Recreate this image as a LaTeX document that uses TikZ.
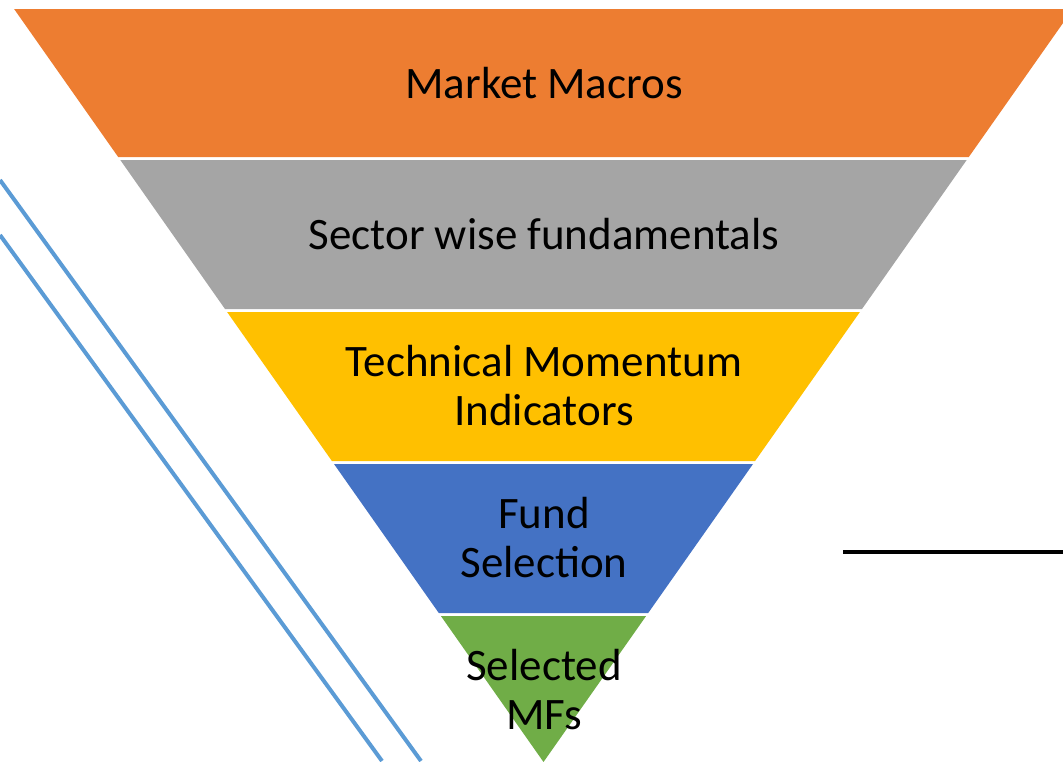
\documentclass[tikz,border=0pt]{standalone}
\usepackage{fontspec}
\setmainfont{Carlito}
\definecolor{cOrange}{HTML}{ED7D31}
\definecolor{cGray}{HTML}{A5A5A5}
\definecolor{cYellow}{HTML}{FFC000}
\definecolor{cBlue}{HTML}{4472C4}
\definecolor{cGreen}{HTML}{70AD47}
\definecolor{cLine}{HTML}{5B9BD5}
\begin{document}
\begin{tikzpicture}[x=1pt,y=-1pt,
  bandtext/.style={align=center,text=black,font=\fontsize{45}{49}\selectfont,inner sep=0pt},
  deco/.style={draw=cLine,line width=4pt}]
\useasboundingbox (0,0) rectangle (1063,761);
\clip (0,0) rectangle (1063,761);
% funnel bands
\fill[cOrange] (14.1,9) -- (1072.9,9) -- (968.8,157) -- (118.2,157) -- cycle;
\fill[cGray] (120.3,160) -- (966.7,160) -- (862.0,309) -- (225.0,309) -- cycle;
\fill[cYellow] (227.1,312) -- (859.9,312) -- (755.1,461) -- (331.9,461) -- cycle;
\fill[cBlue] (334.0,464) -- (753.0,464) -- (648.2,613) -- (438.8,613) -- cycle;
\fill[cGreen] (440.9,616) -- (646.1,616) -- (543.5,762) -- cycle;
% decorative lines
\coordinate (l1a) at (0,180);
\coordinate (l1b) at (421,761);
\coordinate (l2a) at (0,235);
\coordinate (l2b) at (382,761);
\draw[deco] (l1a) -- (l1b);
\draw[deco] (l2a) -- (l2b);
\coordinate (ka) at (843,552);
\coordinate (kb) at (1063,552);
\draw[black,line width=4pt] (ka) -- (kb);
% labels
\node[bandtext] (t1) at (544,83) {Market Macros};
\node[bandtext] (t2) at (544,234.5) {Sector wise fundamentals};
\node[bandtext] (t3) at (544,386) {Technical Momentum\\Indicators};
\node[bandtext] (t4) at (544,538) {Fund\\Selection};
\node[bandtext] (t5) at (544,690) {Selected\\MFs};
\end{tikzpicture}
\end{document}
